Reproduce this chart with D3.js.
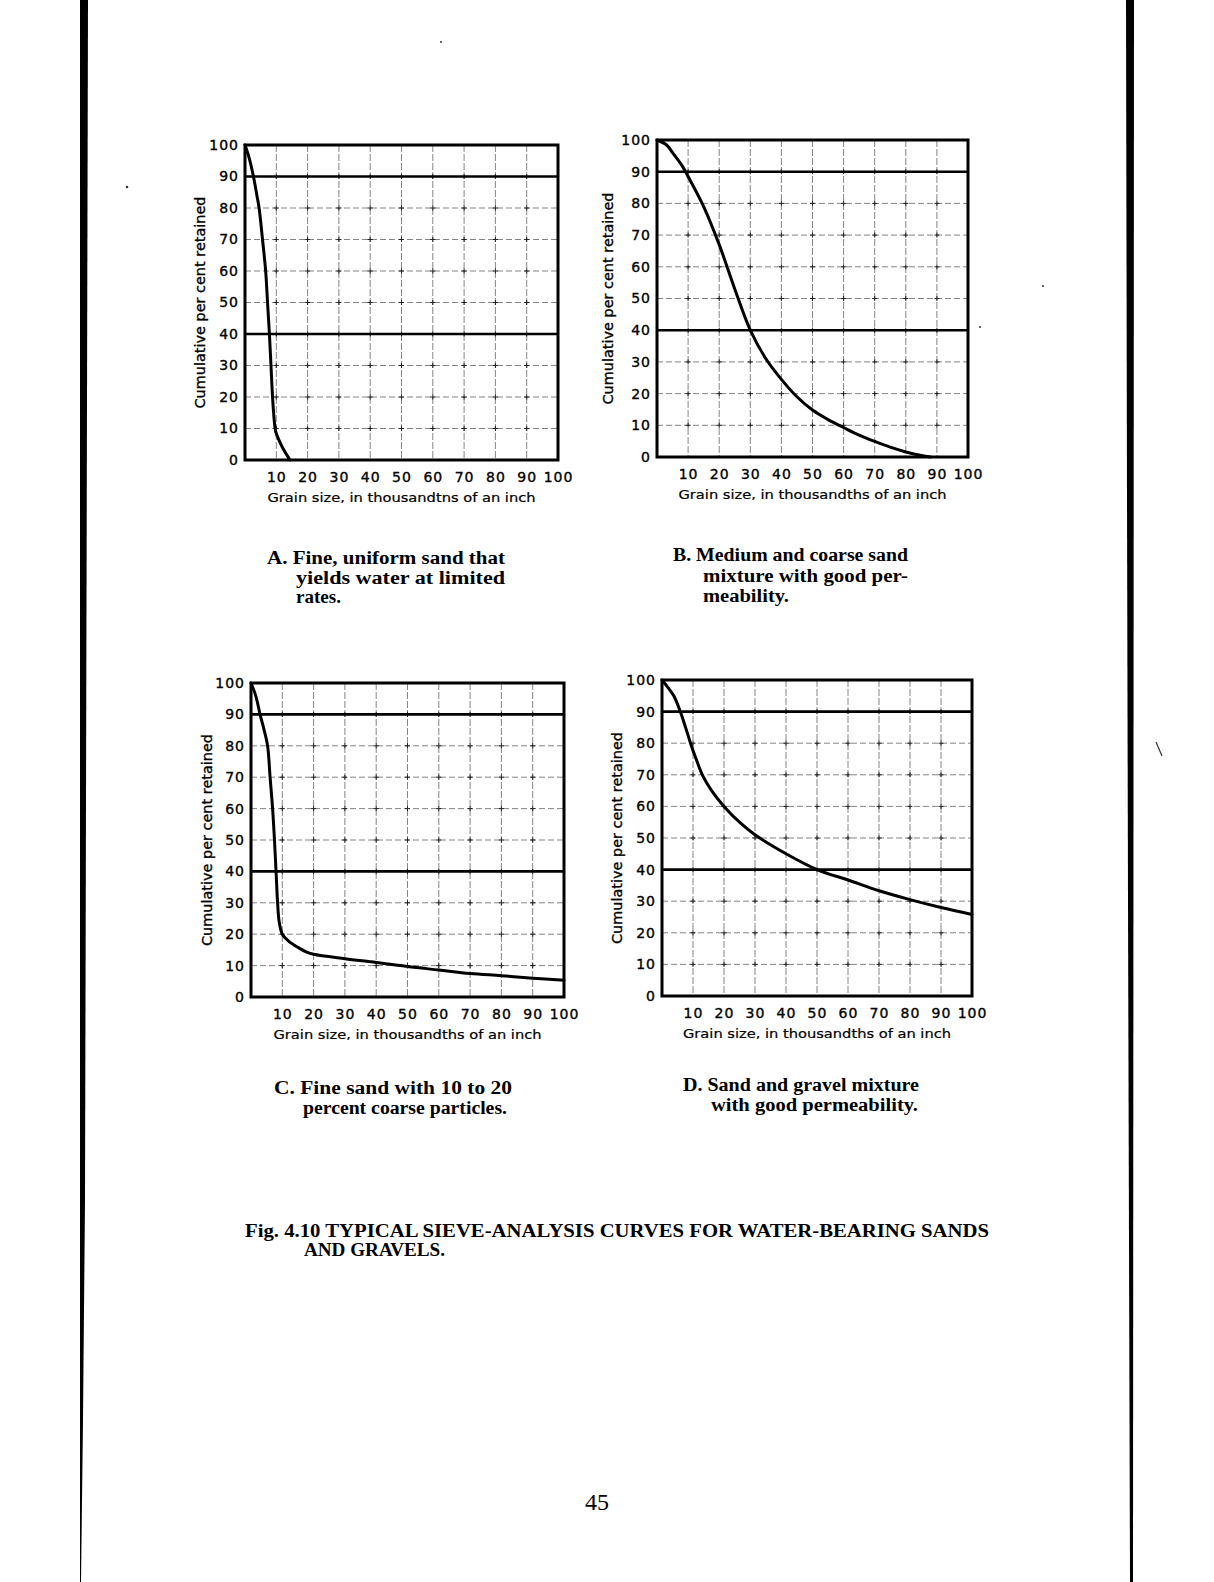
<!DOCTYPE html>
<html>
<head>
<meta charset="utf-8">
<script src="https://cdn.jsdelivr.net/npm/d3@7"></script>
<style>
html,body{margin:0;padding:0;background:#fff;}
svg{display:block;}
</style>
</head>
<body>
<script>
// ---------- DATA ----------
const xTicks = [10, 20, 30, 40, 50, 60, 70, 80, 90, 100];
const yTicks = [0, 10, 20, 30, 40, 50, 60, 70, 80, 90, 100];
const boldLines = [40, 90];

// Chart A: fine, uniform sand
const aSize     = [0, 1.3, 2.7, 3.8, 4.5, 5.6, 6.6, 7.2, 7.8, 8.3, 8.8, 9.3, 9.8, 11, 12.5, 14.4];
const aRetained = [100, 96, 90, 84, 80, 70, 60, 50, 40, 30, 20, 13, 9, 6, 3, 0];

// Chart B: medium and coarse sand
const bSize     = [0, 3, 5, 8, 10, 15, 20, 25, 30, 35, 40, 45, 50, 55, 60, 65, 70, 75, 80, 85, 88];
const bRetained = [100, 98.5, 96, 92, 88.5, 79, 67, 53, 40, 31, 24.5, 19, 14.8, 11.8, 9.3, 6.9, 4.9, 3.1, 1.6, 0.5, 0];

// Chart C: fine sand with 10 to 20 percent coarse particles
const cSize     = [0, 1.5, 2.9, 4.2, 5.3, 6.1, 6.9, 7.5, 8, 8.5, 9, 10, 12, 15, 18, 20, 30, 40, 50, 60, 70, 80, 90, 100];
const cRetained = [100, 96, 90, 85, 80, 70, 60, 50, 40, 30, 24, 20, 17.8, 15.8, 14.2, 13.6, 12.2, 11, 9.7, 8.6, 7.5, 6.8, 6, 5.3];

// Chart D: sand and gravel mixture
const dSize     = [0, 2, 3.8, 5.9, 7.6, 9.2, 11, 13, 16, 20, 25, 30, 40, 50, 60, 70, 80, 90, 100];
const dRetained = [100, 97.5, 95, 90, 85, 80, 75, 70, 65, 60, 55, 51, 45, 40, 36.7, 33.3, 30.5, 28, 25.8];

const yTitle = "Cumulative per cent retained";
const xTitleA = "Grain size, in thousandtns of an inch";
const xTitle = "Grain size, in thousandths of an inch";

const captions = {
  A: ["A. Fine, uniform sand that", "yields water at limited", "rates."],
  B: ["B. Medium and coarse sand", "mixture with good per-", "meability."],
  C: ["C. Fine sand with 10 to 20", "percent coarse particles."],
  D: ["D. Sand and gravel mixture", "with good permeability."]
};
const figTitle = ["Fig. 4.10 TYPICAL  SIEVE-ANALYSIS  CURVES  FOR  WATER-BEARING  SANDS", "AND GRAVELS."];
const pageNumber = "45";

// ---------- DRAW ----------
const W = 1214, H = 1582;
const svg = d3.select("body").append("svg").attr("width", W).attr("height", H);
svg.append("rect").attr("width", W).attr("height", H).attr("fill", "#fff");

// page edges (scan borders)
svg.append("polygon")
  .attr("points", [[80,0],[88,0],[85,1200],[83,1420],[81,1582],[80,1582]].map(p=>p.join(",")).join(" "))
  .attr("fill", "#000");
svg.append("polygon")
  .attr("points", [[1126,0],[1134,0],[1133,1582],[1130,1582],[1128,900],[1127,500]].map(p=>p.join(",")).join(" "))
  .attr("fill", "#000");

// small scan specks
[[441,42,1],[127,187,1.3],[980,327,1],[1043,286,1]].forEach(s=>{
  svg.append("circle").attr("cx",s[0]).attr("cy",s[1]).attr("r",s[2]).attr("fill","#333");
});
svg.append("line").attr("x1",1156).attr("y1",742).attr("x2",1162).attr("y2",756).attr("stroke","#333").attr("stroke-width",1.2);

const panels = [
  {key:"A", size:aSize, ret:aRetained, l:245, t:145, r:558, b:460, ytx:200, xTitle:xTitleA},
  {key:"B", size:bSize, ret:bRetained, l:657, t:140, r:968, b:457, ytx:608, xTitle:xTitle},
  {key:"C", size:cSize, ret:cRetained, l:251, t:683, r:564, b:997, ytx:207, xTitle:xTitle},
  {key:"D", size:dSize, ret:dRetained, l:662, t:680, r:972, b:996, ytx:617, xTitle:xTitle}
];

const numFont = "'DejaVu Sans', sans-serif";

panels.forEach(p => {
  const x = d3.scaleLinear().domain([0, 100]).range([p.l, p.r]);
  const y = d3.scaleLinear().domain([0, 100]).range([p.b, p.t]);
  const g = svg.append("g");

  // grid lines
  const gridX = xTicks.filter(v => v < 100);
  g.selectAll(".vg").data(gridX).join("line")
    .attr("x1", d => x(d)).attr("x2", d => x(d))
    .attr("y1", p.t).attr("y2", p.b)
    .attr("stroke", "#666").attr("stroke-width", 0.8)
    .attr("stroke-dasharray", "7,2");
  const gridY = yTicks.filter(v => v > 0 && v < 100 && !boldLines.includes(v));
  g.selectAll(".hg").data(gridY).join("line")
    .attr("x1", p.l).attr("x2", p.r)
    .attr("y1", d => y(d)).attr("y2", d => y(d))
    .attr("stroke", "#666").attr("stroke-width", 0.8)
    .attr("stroke-dasharray", "6,3");

  // crosses at intersections
  const inter = [];
  gridX.forEach(a => yTicks.filter(v => v > 0 && v < 100).forEach(c => inter.push([a, c])));
  g.selectAll(".cr").data(inter).join("path")
    .attr("d", d => `M${x(d[0])-2.5},${y(d[1])}h5M${x(d[0])},${y(d[1])-2.5}v5`)
    .attr("stroke", "#222").attr("stroke-width", 1);

  // bold reference lines at 40 and 90
  g.selectAll(".bl").data(boldLines).join("line")
    .attr("x1", p.l).attr("x2", p.r)
    .attr("y1", d => y(d)).attr("y2", d => y(d))
    .attr("stroke", "#000").attr("stroke-width", 2.6);

  // frame
  g.append("rect").attr("x", p.l).attr("y", p.t)
    .attr("width", p.r - p.l).attr("height", p.b - p.t)
    .attr("fill", "none").attr("stroke", "#000").attr("stroke-width", 3);

  // curve
  const pts = p.size.map((s, i) => [s, p.ret[i]]);
  const line = d3.line().x(d => x(d[0])).y(d => y(d[1])).curve(d3.curveCatmullRom.alpha(0.5));
  g.append("path").attr("d", line(pts))
    .attr("fill", "none").attr("stroke", "#000").attr("stroke-width", 3)
    .attr("stroke-linecap", "round").attr("stroke-linejoin", "round");

  // axes (labels only)
  const ya = g.append("g").attr("transform", `translate(${p.l},0)`)
    .call(d3.axisLeft(y).tickValues(yTicks).tickSize(0).tickPadding(6));
  const xa = g.append("g").attr("transform", `translate(0,${p.b})`)
    .call(d3.axisBottom(x).tickValues(xTicks).tickSize(0).tickPadding(12));
  [ya, xa].forEach(a => {
    a.select(".domain").remove();
    a.selectAll("text").attr("font-family", numFont).attr("font-size", 14)
      .attr("letter-spacing", "1px").attr("fill", "#000")
      .attr("stroke", "#000").attr("stroke-width", 0.35);
  });

  // axis titles
  g.append("text")
    .attr("transform", `translate(${p.ytx},${(p.t + p.b) / 2}) rotate(-90)`)
    .attr("text-anchor", "middle").attr("dy", "0.35em")
    .attr("font-family", numFont).attr("font-size", 13.5)
    .attr("stroke", "#000").attr("stroke-width", 0.35)
    .attr("textLength", 212).attr("lengthAdjust", "spacingAndGlyphs")
    .text(yTitle);
  g.append("text")
    .attr("x", (p.l + p.r) / 2).attr("y", p.b + 38)
    .attr("text-anchor", "middle").attr("dy", "0.35em")
    .attr("font-family", numFont).attr("font-size", 12)
    .attr("stroke", "#000").attr("stroke-width", 0.2)
    .attr("textLength", 268).attr("lengthAdjust", "spacingAndGlyphs")
    .text(p.xTitle);
});

// captions
const serif = "'Liberation Serif', 'Times New Roman', serif";
const capLayout = {
  A: [[267, 564, 238], [296, 584, 209], [296, 603, 45]],
  B: [[673, 561, 235], [703, 582, 205], [703, 602, 86]],
  C: [[274, 1094, 238], [303, 1114, 204]],
  D: [[683, 1091, 236], [711, 1111, 207]]
};
Object.keys(captions).forEach(k => {
  captions[k].forEach((txt, i) => {
    const [cx, cy, len] = capLayout[k][i];
    svg.append("text").attr("x", cx).attr("y", cy)
      .attr("font-family", serif).attr("font-weight", "bold").attr("font-size", 18)
      .attr("textLength", len).attr("lengthAdjust", "spacingAndGlyphs")
      .text(txt);
  });
});

// figure title
svg.append("text").attr("x", 245).attr("y", 1237)
  .attr("font-family", serif).attr("font-weight", "bold").attr("font-size", 18)
  .attr("textLength", 744).attr("lengthAdjust", "spacingAndGlyphs")
  .text(figTitle[0]);
svg.append("text").attr("x", 304).attr("y", 1256)
  .attr("font-family", serif).attr("font-weight", "bold").attr("font-size", 18)
  .attr("textLength", 141).attr("lengthAdjust", "spacingAndGlyphs")
  .text(figTitle[1]);

// page number
svg.append("text").attr("x", 597).attr("y", 1510)
  .attr("text-anchor", "middle")
  .attr("font-family", serif).attr("font-size", 24)
  .text(pageNumber);
</script>
</body>
</html>
